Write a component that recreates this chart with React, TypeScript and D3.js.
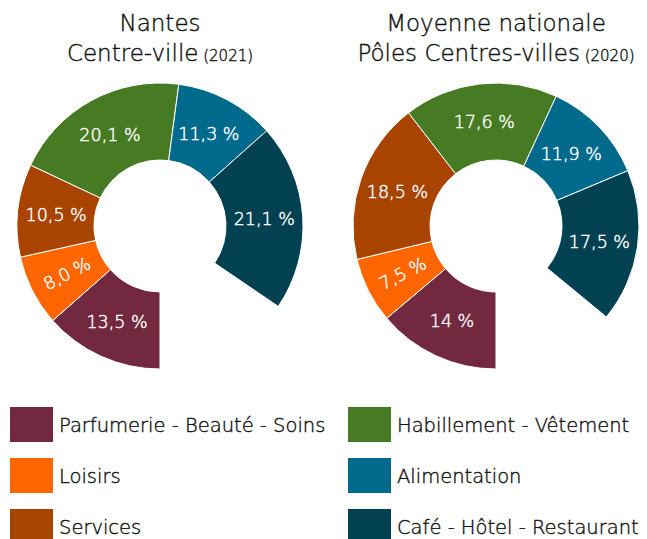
import React from "react";
import * as d3 from "d3";

const categories = [
  "Parfumerie - Beauté - Soins",
  "Loisirs",
  "Services",
  "Habillement - Vêtement",
  "Alimentation",
  "Café - Hôtel - Restaurant",
];
const colors = ["#72283E", "#FF6600", "#A84300", "#467A23", "#006A8C", "#024151"];

const nantesValues = [13.5, 8.0, 10.5, 20.1, 11.3, 21.1];
const nantesLabels = ["13,5 %", "8,0 %", "10,5 %", "20,1 %", "11,3 %", "21,1 %"];
const nantesOther = 15.5; // unlabelled remainder (gap)
const nationalValues = [14, 7.5, 18.5, 17.6, 11.9, 17.5];
const nationalLabels = ["14 %", "7,5 %", "18,5 %", "17,6 %", "11,9 %", "17,5 %"];
const nationalOther = 14.2; // unlabelled remainder (gap)

const titles = [
  { line1: "Nantes", line2: "Centre-ville", year: "(2021)" },
  { line1: "Moyenne nationale", line2: "Pôles Centres-villes", year: "(2020)" },
];

const FONT = "'DejaVu Sans', sans-serif";
const WEIGHT = 200;
const INK = "#111";
const W = 647;
const H = 539;
const INNER = 66;
const OUTER = 143;

function Donut({
  cx,
  cy,
  values,
  other,
  labels,
}: {
  cx: number;
  cy: number;
  values: number[];
  other: number;
  labels: string[];
}) {
  const pie = d3
    .pie<number>()
    .sort(null)
    .value((d) => d)
    .startAngle(Math.PI)
    .endAngle(3 * Math.PI);
  const arcs = pie([...values, other]).slice(0, values.length);
  const arc = d3.arc<d3.PieArcDatum<number>>().innerRadius(INNER).outerRadius(OUTER);
  return (
    <g transform={`translate(${cx},${cy})`}>
      {arcs.map((a, i) => (
        <path key={i} d={arc(a) || ""} fill={colors[i]} stroke="#fff" strokeWidth={1} />
      ))}
      {arcs.map((a, i) => {
        const [x, y] = arc.centroid(a);
        const mid = ((a.startAngle + a.endAngle) / 2) * (180 / Math.PI);
        let rot = 0;
        if (a.data < 10) {
          rot = mid - 90;
          if (rot > 90) rot -= 180;
          if (rot < -90) rot += 180;
        }
        return (
          <text
            key={"t" + i}
            transform={`translate(${x},${y}) rotate(${rot})`}
            textAnchor="middle"
            dy="0.36em"
            fill="#fff"
            stroke="#fff"
            strokeWidth={0.45}
            fontSize={17.5}
            fontFamily={FONT}
            fontWeight={WEIGHT}
          >
            {labels[i]}
          </text>
        );
      })}
    </g>
  );
}

export default function App() {
  const centers = [
    { cx: 160, cy: 226 },
    { cx: 496, cy: 226 },
  ];
  const legendX = [10, 348];
  const legendY = d3.range(3).map((i) => 407 + i * 51);
  return (
    <svg
      width={W}
      height={H}
      style={{ position: "absolute", left: 0, top: 0, background: "#fff" }}
    >
      {titles.map((t, i) => (
        <text
          key={"title" + i}
          textAnchor="middle"
          fontFamily={FONT}
          fontWeight={WEIGHT}
          fill={INK}
          stroke={INK}
          strokeWidth={0.4}
          fontSize={23}
        >
          <tspan x={centers[i].cx} y={31}>
            {t.line1}
          </tspan>
          <tspan x={centers[i].cx} y={61}>
            {t.line2}
            <tspan fontSize={15}>{" " + t.year}</tspan>
          </tspan>
        </text>
      ))}
      <Donut cx={centers[0].cx} cy={centers[0].cy} values={nantesValues} other={nantesOther} labels={nantesLabels} />
      <Donut
        cx={centers[1].cx}
        cy={centers[1].cy}
        values={nationalValues}
        other={nationalOther}
        labels={nationalLabels}
      />
      {categories.map((c, i) => {
        const col = Math.floor(i / 3);
        const row = i % 3;
        const x = legendX[col];
        const y = legendY[row];
        return (
          <g key={"lg" + i}>
            <rect x={x} y={y} width={43} height={35} fill={colors[i]} />
            <text
              x={x + 49}
              y={y + 17.5}
              dy="0.36em"
              fontFamily={FONT}
              fontWeight={WEIGHT}
              fontSize={19.5}
              fill={INK}
              stroke={INK}
              strokeWidth={0.4}
            >
              {c}
            </text>
          </g>
        );
      })}
    </svg>
  );
}
